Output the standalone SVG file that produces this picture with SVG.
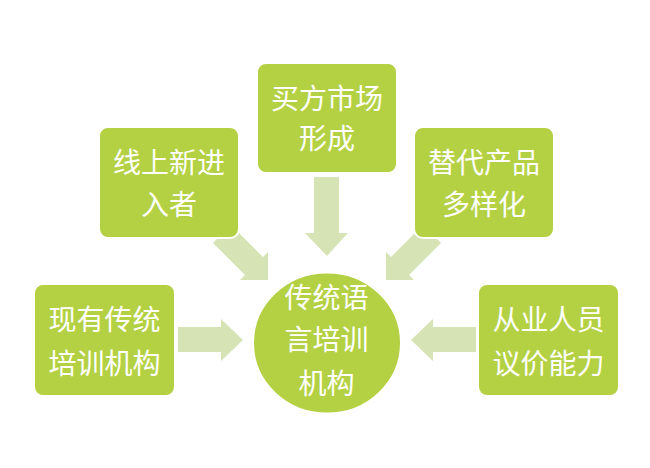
<svg xmlns="http://www.w3.org/2000/svg" width="650" height="468" viewBox="0 0 650 468">
  <style>
    .box { fill: #b4d144; stroke: #ffffff; stroke-width: 2; }
    .arrow { fill: #d6e4b5; }
    .t { font-family: "Noto Sans CJK SC", "Noto Sans", sans-serif; font-size: 28px; fill: #ffffff; text-anchor: middle; }
  </style>
  <rect width="650" height="468" fill="#ffffff"/>
  <g id="connectors">
    <!-- top down arrow -->
    <polygon class="arrow" points="314,177 339,177 339,233 348,233 327,256 305,233 314,233"/>
    <!-- left horizontal arrow -->
    <polygon class="arrow" points="178,327 221,327 221,319 243,340 221,361 221,352 178,352"/>
    <!-- right horizontal arrow -->
    <polygon class="arrow" points="476,327 433,327 433,319 411,340 433,361 433,352 476,352"/>
    <!-- upper-left diagonal arrow -->
    <polygon class="arrow" points="231,225 263,257 268,252 268,280 240,280 245,275 213,243"/>
    <!-- upper-right diagonal arrow -->
    <polygon class="arrow" points="423,225 391,257 386,252 386,280 414,280 409,275 441,243"/>
  </g>
  <g id="node-top">
    <rect class="box" x="257" y="63" width="140" height="110" rx="9"/>
    <text class="t" x="327" y="108.5">买方市场</text>
    <text class="t" x="327" y="149">形成</text>
  </g>
  <g id="node-upper-left">
    <rect class="box" x="99" y="127" width="140" height="111" rx="9"/>
    <text class="t" x="169" y="172.5">线上新进</text>
    <text class="t" x="169" y="215">入者</text>
  </g>
  <g id="node-upper-right">
    <rect class="box" x="414" y="127" width="140" height="111" rx="9"/>
    <text class="t" x="484" y="172.5">替代产品</text>
    <text class="t" x="484" y="215">多样化</text>
  </g>
  <g id="node-lower-left">
    <rect class="box" x="34" y="284" width="141" height="112" rx="9"/>
    <text class="t" x="104.5" y="330">现有传统</text>
    <text class="t" x="104.5" y="373.5">培训机构</text>
  </g>
  <g id="node-lower-right">
    <rect class="box" x="478" y="284" width="141" height="112" rx="9"/>
    <text class="t" x="548.5" y="330">从业人员</text>
    <text class="t" x="548.5" y="373.5">议价能力</text>
  </g>
  <g id="node-center">
    <ellipse class="box" cx="327" cy="343" rx="74" ry="70.5"/>
    <text class="t" x="326.5" y="308">传统语</text>
    <text class="t" x="326.5" y="350">言培训</text>
    <text class="t" x="326.5" y="393.5">机构</text>
  </g>
</svg>
